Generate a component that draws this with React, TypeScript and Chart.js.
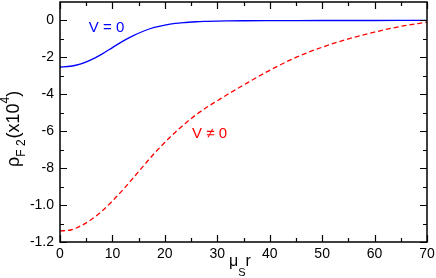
import React, { useEffect, useRef } from "react";
import { Chart, registerables } from "chart.js";

Chart.register(...registerables);

// Data (x: mu_S r, y: rho_F2 in units shown on axis)
const xs = [0, 2, 4, 6, 8, 10, 12, 14, 16, 18, 20, 22, 24, 26, 28, 30, 32, 35, 40, 45, 50, 55, 60, 65, 70];
const vZero = [-0.252, -0.248, -0.235, -0.212, -0.182, -0.147, -0.112, -0.082, -0.057, -0.038, -0.025, -0.016, -0.011, -0.007, -0.005, -0.0035, -0.0025, -0.0016, -0.0009, -0.0005, -0.0003, -0.0002, -0.0001, -0.00005, 0];
const vNonZero = [-1.14, -1.135, -1.112, -1.078, -1.033, -0.978, -0.917, -0.852, -0.785, -0.72, -0.66, -0.605, -0.555, -0.51, -0.47, -0.435, -0.4, -0.35, -0.27, -0.2, -0.145, -0.1, -0.063, -0.032, -0.009];

const xTickValues = [0, 10, 20, 30, 40, 50, 60, 70];
const xMinorValues = [5, 15, 25, 35, 45, 55, 65];
const yTickValues = [-1.2, -1.0, -0.8, -0.6, -0.4, -0.2, 0];
const yTickLabels = ["-1.2", "-1.0", "-8", "-6", "-4", "-2", "0"];
const yMinorValues = [-1.1, -0.9, -0.7, -0.5, -0.3, -0.1];

const FONT = "'Liberation Sans', Arial, Helvetica, sans-serif";

const framePlugin = {
  id: "framePlugin",
  afterDraw(chart: any) {
    const { ctx, chartArea: a, scales } = chart;
    const xs_ = scales.x;
    const ys_ = scales.y;
    ctx.save();
    ctx.strokeStyle = "#000";
    ctx.lineWidth = 1.5;
    ctx.strokeRect(a.left, a.top, a.right - a.left, a.bottom - a.top);
    const major = 7;
    const minor = 4;
    ctx.lineWidth = 1.2;
    ctx.beginPath();
    const xt = (v: number, len: number) => {
      const p = Math.round(xs_.getPixelForValue(v)) + 0.5;
      ctx.moveTo(p, a.bottom);
      ctx.lineTo(p, a.bottom - len);
      ctx.moveTo(p, a.top);
      ctx.lineTo(p, a.top + len);
    };
    const yt = (v: number, len: number) => {
      const p = Math.round(ys_.getPixelForValue(v)) + 0.5;
      ctx.moveTo(a.left, p);
      ctx.lineTo(a.left + len, p);
      ctx.moveTo(a.right, p);
      ctx.lineTo(a.right - len, p);
    };
    xTickValues.forEach((v) => xt(v, major));
    xMinorValues.forEach((v) => xt(v, minor));
    yTickValues.forEach((v) => yt(v, major));
    yMinorValues.forEach((v) => yt(v, minor));
    ctx.stroke();

    // curve labels
    ctx.textBaseline = "alphabetic";
    ctx.textAlign = "left";
    ctx.font = `15px ${FONT}`;
    ctx.fillStyle = "#0000ff";
    ctx.fillText("V = 0", xs_.getPixelForValue(5.5), ys_.getPixelForValue(-0.06));
    ctx.fillStyle = "#ff0000";
    ctx.fillText("V \u2260 0", xs_.getPixelForValue(25.2), ys_.getPixelForValue(-0.638));

    // x title: mu_S r
    ctx.fillStyle = "#000";
    let x = 229;
    const by = 266;
    ctx.font = `16px ${FONT}`;
    ctx.fillText("\u03bc", x, by);
    x += ctx.measureText("\u03bc").width;
    ctx.font = `11px ${FONT}`;
    ctx.fillText("S", x, by + 10);
    x += ctx.measureText("S").width;
    ctx.font = `16px ${FONT}`;
    ctx.fillText("r", x, by);

    // y title: rho_F2 (x10^4)
    ctx.translate(19, 167);
    ctx.rotate(-Math.PI / 2);
    let t = 0;
    ctx.font = `18px ${FONT}`;
    ctx.fillText("\u03c1", t, 0);
    t += ctx.measureText("\u03c1").width;
    ctx.font = `12px ${FONT}`;
    ctx.fillText("F 2", t, 6);
    t += ctx.measureText("F 2").width + 1;
    ctx.font = `18px ${FONT}`;
    ctx.fillText("(x10", t, 0);
    t += ctx.measureText("(x10").width;
    ctx.font = `12px ${FONT}`;
    ctx.fillText("4", t, -10);
    t += ctx.measureText("4").width;
    ctx.font = `18px ${FONT}`;
    ctx.fillText(")", t, 0);
    ctx.restore();
  },
};

const zeroPad = (s: any) => {
  s.paddingTop = 0;
  s.paddingBottom = 0;
  s.paddingLeft = 0;
  s.paddingRight = 0;
};

export default function App() {
  const ref = useRef<HTMLCanvasElement | null>(null);
  useEffect(() => {
    if (!ref.current) return;
    const chart = new Chart(ref.current, {
      type: "line",
      data: {
        datasets: [
          {
            label: "V = 0",
            data: xs.map((x, i) => ({ x, y: vZero[i] })),
            borderColor: "#0000ff",
            borderWidth: 1.3,
            pointRadius: 0,
            cubicInterpolationMode: "monotone",
            fill: false,
          },
          {
            label: "V != 0",
            data: xs.map((x, i) => ({ x, y: vNonZero[i] })),
            borderColor: "#ff0000",
            borderWidth: 1.3,
            borderDash: [5, 3],
            pointRadius: 0,
            cubicInterpolationMode: "monotone",
            fill: false,
          },
        ],
      },
      options: {
        responsive: false,
        animation: false,
        layout: { padding: { top: 2, right: 9, left: 0, bottom: 0 } },
        plugins: { legend: { display: false }, tooltip: { enabled: false } },
        scales: {
          x: {
            type: "linear",
            min: 0,
            max: 70,
            grid: { display: false, drawTicks: false },
            border: { display: false },
            ticks: {
              color: "#000",
              font: { family: FONT, size: 14 },
              padding: 4,
              maxRotation: 0,
              autoSkip: false,
            },
            afterBuildTicks: (s: any) => {
              s.ticks = xTickValues.map((v) => ({ value: v }));
            },
            afterFit: (s: any) => {
              s.height = 36;
              zeroPad(s);
            },
          },
          y: {
            type: "linear",
            min: -1.2,
            max: 0.1,
            grid: { display: false, drawTicks: false },
            border: { display: false },
            ticks: {
              color: "#000",
              font: { family: FONT, size: 14 },
              padding: 6,
              autoSkip: false,
              callback: (v: any) => {
                const i = yTickValues.findIndex((t) => Math.abs(t - Number(v)) < 1e-6);
                return i >= 0 ? yTickLabels[i] : "";
              },
            },
            afterBuildTicks: (s: any) => {
              s.ticks = yTickValues.map((v) => ({ value: v }));
            },
            afterFit: (s: any) => {
              s.width = 60;
              zeroPad(s);
            },
          },
        },
      },
      plugins: [framePlugin],
    } as any);
    return () => chart.destroy();
  }, []);
  return (
    <div style={{ position: "fixed", left: 0, top: 0, width: 436, height: 278, background: "#fff" }}>
      <canvas ref={ref} width={436} height={278} style={{ display: "block" }} />
    </div>
  );
}
